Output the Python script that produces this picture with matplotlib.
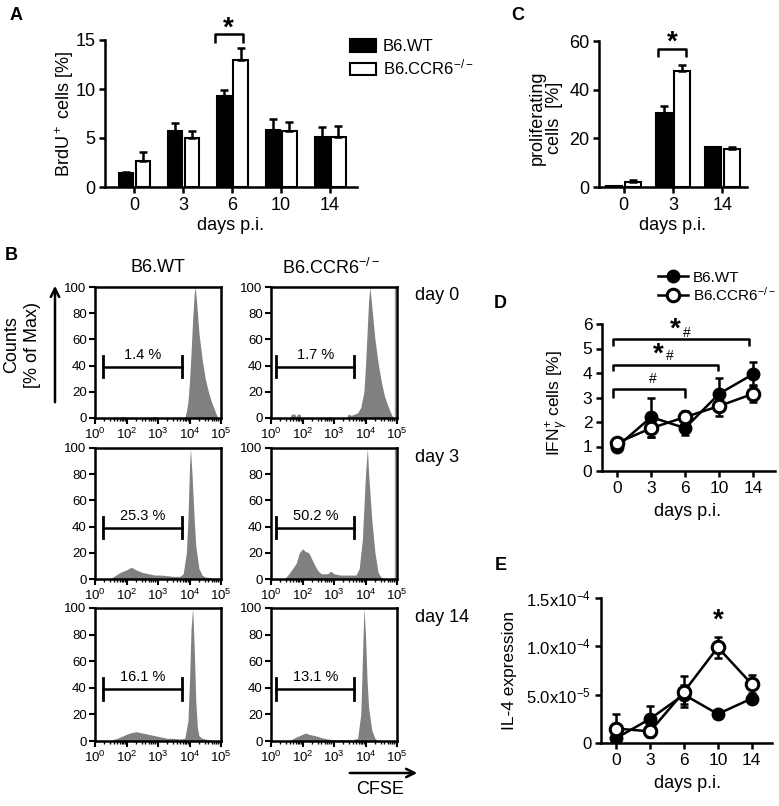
import numpy as np
import matplotlib
matplotlib.use("Agg")
import matplotlib.pyplot as plt
from matplotlib.lines import Line2D
from matplotlib.patches import Patch

plt.rcParams["font.family"] = ["Liberation Sans", "DejaVu Sans"]
plt.rcParams["mathtext.fontset"] = "custom"
plt.rcParams["mathtext.rm"] = "Liberation Sans"
plt.rcParams["mathtext.it"] = "Liberation Sans:italic"
plt.rcParams["mathtext.bf"] = "Liberation Sans:bold"

# ---- data -------------------------------------------------------------
days_a = ["0", "3", "6", "10", "14"]
brdu_wt = [1.4, 5.75, 9.3, 5.8, 5.1]
brdu_wt_err = [0.1, 0.75, 0.6, 1.1, 1.0]
brdu_ko = [2.7, 5.0, 13.0, 5.75, 5.1]
brdu_ko_err = [0.9, 0.7, 1.2, 0.9, 1.1]

days_c = ["0", "3", "14"]
prolif_wt = [0.4, 30.5, 16.3]
prolif_wt_err = [0.2, 2.6, 0.3]
prolif_ko = [1.9, 47.5, 15.6]
prolif_ko_err = [1.1, 2.7, 1.0]

days_d = ["0", "3", "6", "10", "14"]
ifn_wt = [1.0, 2.2, 1.75, 3.15, 3.95]
ifn_wt_err = [0.1, 0.8, 0.3, 0.65, 0.5]
ifn_ko = [1.15, 1.75, 2.2, 2.65, 3.15]
ifn_ko_err = [0.1, 0.35, 0.25, 0.4, 0.35]

il4_wt = [0.5e-5, 2.5e-5, 5.0e-5, 3.0e-5, 4.6e-5]
il4_wt_err = [0.3e-5, 1.3e-5, 1.0e-5, 0.2e-5, 0.3e-5]
il4_ko = [1.5e-5, 1.2e-5, 5.3e-5, 9.9e-5, 6.1e-5]
il4_ko_err = [1.5e-5, 0.6e-5, 1.6e-5, 1.1e-5, 0.9e-5]

# CFSE histograms, x in plotted decade units (0..4), y in % of max
wt_d0_x = [0.8, 0.85, 0.95, 1.0, 1.8, 1.85, 1.95, 2.0, 2.85, 2.9, 2.95, 3.0, 3.05, 3.1, 3.15, 3.18, 3.22, 3.3, 3.4, 3.5, 3.6, 3.7, 3.8, 3.88, 3.95]
wt_d0_y = [0, 1, 1, 0, 0, 1, 1, 0, 0, 5, 12, 28, 50, 75, 95, 100, 90, 65, 45, 30, 20, 12, 6, 1, 0]
ko_d0_x = [0.6, 0.65, 0.75, 0.8, 0.85, 0.92, 0.95, 2.4, 2.45, 2.55, 2.65, 2.75, 2.85, 2.95, 3.0, 3.05, 3.1, 3.14, 3.2, 3.3, 3.4, 3.5, 3.6, 3.7, 3.8, 3.88]
ko_d0_y = [0, 3, 3, 1, 3, 3, 0, 0, 3, 2, 3, 4, 8, 20, 40, 65, 90, 100, 85, 60, 42, 28, 17, 10, 4, 0]
wt_d3_x = [0.5, 0.6, 0.8, 1.0, 1.15, 1.3, 1.5, 1.7, 1.9, 2.1, 2.3, 2.5, 2.7, 2.8, 2.9, 2.95, 3.0, 3.03, 3.08, 3.15, 3.2, 3.3, 3.4, 3.5, 3.7, 3.8]
wt_d3_y = [0.5, 2, 5, 7, 9, 7, 5, 4, 3, 3, 2.5, 2, 2, 4, 20, 45, 85, 100, 80, 45, 25, 8, 3, 1.5, 1, 0]
ko_d3_x = [0.4, 0.5, 0.6, 0.8, 0.9, 1.0, 1.1, 1.2, 1.3, 1.4, 1.5, 1.6, 1.8, 1.9, 2.0, 2.2, 2.4, 2.6, 2.7, 2.8, 2.9, 2.95, 3.0, 3.06, 3.1, 3.2, 3.3, 3.4, 3.5, 3.6]
ko_d3_y = [0, 2, 5, 12, 20, 23, 21, 20, 15, 10, 6, 4, 4, 6, 4, 3, 3, 3, 3, 8, 30, 55, 80, 100, 80, 45, 20, 5, 1, 0]
wt_d14_x = [0.5, 0.7, 0.9, 1.1, 1.3, 1.5, 1.7, 1.9, 2.1, 2.3, 2.5, 2.7, 2.85, 2.95, 3.0, 3.05, 3.1, 3.15, 3.2, 3.25, 3.3, 3.4, 3.6, 3.8]
wt_d14_y = [0.5, 2, 4, 6, 7, 6, 5, 4, 3, 2, 2, 1.5, 2, 15, 45, 85, 100, 70, 30, 10, 4, 2, 1, 0]
ko_d14_x = [0.6, 0.8, 1.0, 1.1, 1.2, 1.4, 1.6, 1.8, 2.0, 2.3, 2.6, 2.75, 2.85, 2.9, 2.95, 3.0, 3.05, 3.1, 3.2, 3.3, 3.4]
ko_d14_y = [0.5, 3, 5, 6, 5, 4, 2.5, 1.5, 1, 1, 1, 2, 20, 60, 100, 80, 45, 25, 8, 2, 0]

gate_pct = ["1.4 %", "1.7 %", "25.3 %", "50.2 %", "16.1 %", "13.1 %"]
gate_wt = (0.24, 2.77)
gate_ko = (0.17, 2.64)
hist_days = ["day 0", "day 3", "day 14"]
cfse_ticks = ["$10^0$", "$10^2$", "$10^3$", "$10^4$", "$10^5$"]

# ---- layout helpers (pixel based) --------------------------------------
W, H = 779, 806
fig = plt.figure(figsize=(W / 100, H / 100), dpi=100)


def px_axes(x0, y0, x1, y1):
    return fig.add_axes([x0 / W, 1 - y1 / H, (x1 - x0) / W, (y1 - y0) / H])


def prism(ax, fs=13):
    for s in ("top", "right"):
        ax.spines[s].set_visible(False)
    for s in ("left", "bottom"):
        ax.spines[s].set_linewidth(1.8)
    ax.tick_params(width=1.8, length=4, labelsize=fs, pad=3)


def bracket(ax, x0, x1, ytop, ylow):
    ax.plot([x0, x0, x1, x1], [ylow, ytop, ytop, ylow], color="k", lw=1.8,
            clip_on=False, solid_capstyle="butt")


LW = 1.5
ERR = dict(fmt="none", ecolor="k", elinewidth=1.8, capsize=3, capthick=1.8)
KO_LABEL = "B6.CCR6$^{-/-}$"

# ---- A: BrdU bars -------------------------------------------------------
axA = px_axes(105, 40, 357, 187)
xa = np.arange(len(days_a))
axA.bar(xa - 0.17, brdu_wt, 0.29, color="k", edgecolor="k", lw=LW)
axA.bar(xa + 0.17, brdu_ko, 0.29, color="white", edgecolor="k", lw=LW)
axA.errorbar(xa - 0.17, brdu_wt, yerr=[np.zeros(5), brdu_wt_err], **ERR)
axA.errorbar(xa + 0.17, brdu_ko, yerr=[np.zeros(5), brdu_ko_err], **ERR)
axA.set_xlim(-0.6, 4.55)
axA.set_ylim(0, 15)
axA.set_yticks([0, 5, 10, 15])
axA.set_xticks(xa, days_a)
prism(axA)
bracket(axA, 2 - 0.36, 2 + 0.22, 15.6, 14.7)
axA.text(2 - 0.08, 16.2, "*", ha="center", va="center", fontsize=20, fontweight="bold", clip_on=False)
axA.legend(handles=[Patch(facecolor="k", edgecolor="k", lw=LW, label="B6.WT"),
                    Patch(facecolor="white", edgecolor="k", lw=LW, label=KO_LABEL)],
           loc="upper left", bbox_to_anchor=(342 / W, 1 - 31 / H), bbox_transform=fig.transFigure,
           frameon=False, fontsize=12, handlelength=1.55, handleheight=0.75,
           handletextpad=0.4, labelspacing=0.2, borderpad=0)

# ---- C: proliferating bars ----------------------------------------------
axC = px_axes(599, 41, 747, 187)
xc = np.arange(len(days_c))
axC.bar(xc - 0.19, prolif_wt, 0.32, color="k", edgecolor="k", lw=LW)
axC.bar(xc + 0.19, prolif_ko, 0.32, color="white", edgecolor="k", lw=LW)
axC.errorbar(xc - 0.19, prolif_wt, yerr=[np.zeros(3), prolif_wt_err], **ERR)
axC.errorbar(xc + 0.19, prolif_ko, yerr=[np.zeros(3), prolif_ko_err], **ERR)
axC.set_xlim(-0.5, 2.5)
axC.set_ylim(0, 60)
axC.set_yticks([0, 20, 40, 60])
axC.set_xticks(xc, days_c)
prism(axC)
bracket(axC, 1 - 0.3, 1 + 0.26, 56.7, 53.4)
axC.text(1 - 0.02, 59.5, "*", ha="center", va="center", fontsize=20, fontweight="bold", clip_on=False)

# ---- D: IFNg line -------------------------------------------------------
axD = px_axes(602, 324, 775, 471)
xd = np.arange(len(days_d))
axD.errorbar(xd, ifn_wt, yerr=ifn_wt_err, **ERR)
axD.errorbar(xd, ifn_ko, yerr=ifn_ko_err, **ERR)
axD.plot(xd, ifn_wt, "-o", color="k", lw=1.8, ms=9, mfc="k", mec="k", zorder=3)
axD.plot(xd, ifn_ko, "-o", color="k", lw=1.8, ms=9, mfc="white", mec="k", mew=2.2, zorder=4)
axD.set_xlim(-0.45, 4.65)
axD.set_ylim(0, 6)
axD.set_yticks(range(7))
axD.set_xticks(xd, days_d)
prism(axD, 12.5)
bracket(axD, -0.12, 2.0, 3.34, 3.0)
bracket(axD, -0.12, 2.97, 4.34, 4.1)
bracket(axD, -0.12, 3.88, 5.39, 5.1)
axD.text(1.05, 3.75, "#", ha="center", va="center", fontsize=10, clip_on=False)
axD.text(1.2, 4.75, "*", ha="center", va="center", fontsize=20, fontweight="bold", clip_on=False)
axD.text(1.56, 4.68, "#", ha="center", va="center", fontsize=10, clip_on=False)
axD.text(1.72, 5.75, "*", ha="center", va="center", fontsize=20, fontweight="bold", clip_on=False)
axD.text(2.06, 5.65, "#", ha="center", va="center", fontsize=10, clip_on=False)
axD.legend(handles=[Line2D([], [], color="k", lw=1.8, marker="o", ms=9, mfc="k", label="B6.WT"),
                    Line2D([], [], color="k", lw=1.8, marker="o", ms=9, mfc="white", mew=2.2,
                           label=KO_LABEL)],
           loc="upper left", bbox_to_anchor=(650 / W, 1 - 263 / H), bbox_transform=fig.transFigure,
           frameon=False, fontsize=11, handlelength=2.0, handletextpad=0.3,
           labelspacing=0.05, borderpad=0)

# ---- E: IL-4 line -------------------------------------------------------
axE = px_axes(601, 598, 772, 743)
axE.errorbar(xd, il4_wt, yerr=il4_wt_err, **ERR)
axE.errorbar(xd, il4_ko, yerr=il4_ko_err, **ERR)
axE.plot(xd, il4_wt, "-o", color="k", lw=1.8, ms=9, mfc="k", mec="k", zorder=3)
axE.plot(xd, il4_ko, "-o", color="k", lw=1.8, ms=9, mfc="white", mec="k", mew=2.2, zorder=4)
axE.set_xlim(-0.45, 4.6)
axE.set_ylim(0, 1.5e-4)
axE.set_yticks([0, 5e-5, 1e-4, 1.5e-4],
               ["0", "5.0x10$^{-5}$", "1.0x10$^{-4}$", "1.5x10$^{-4}$"])
axE.set_xticks(xd, days_d)
prism(axE, 12.5)
axE.tick_params(axis="y", labelsize=12)
axE.text(3, 1.27e-4, "*", ha="center", va="center", fontsize=20, fontweight="bold", clip_on=False)

# ---- B: CFSE histograms -------------------------------------------------
hists = [(wt_d0_x, wt_d0_y), (ko_d0_x, ko_d0_y),
         (wt_d3_x, wt_d3_y), (ko_d3_x, ko_d3_y),
         (wt_d14_x, wt_d14_y), (ko_d14_x, ko_d14_y)]
cols = [(95, 221), (271, 397)]
rows = [(287, 418), (448, 579), (608, 741)]
minor = [d + np.log10(k) for d in range(4) for k in range(2, 10)]
for i, (hx, hy) in enumerate(hists):
    r, c = divmod(i, 2)
    ax = px_axes(cols[c][0], rows[r][0], cols[c][1], rows[r][1])
    ax.fill_between(hx, hy, color="#808080", lw=0)
    if c == 1 and r < 2:
        ax.axvline(3.93, color="#9a9a9a", lw=1)
    g0, g1 = gate_wt if c == 0 else gate_ko
    ax.plot([g0, g1], [39, 39], color="k", lw=1.8)
    ax.plot([g0, g0], [31, 47], color="k", lw=2)
    ax.plot([g1, g1], [31, 47], color="k", lw=2)
    ax.text((g0 + g1) / 2, 43, gate_pct[i], ha="center", va="bottom", fontsize=10.5)
    ax.set_xlim(0, 4)
    ax.set_ylim(0, 100)
    ax.set_yticks(range(0, 101, 20))
    ax.set_xticks(range(5), cfse_ticks)
    ax.set_xticks(minor, minor=True)
    for s in ax.spines.values():
        s.set_linewidth(1.8)
    ax.tick_params(labelsize=9.5, width=1.5, length=4, pad=2)
    ax.tick_params(which="minor", width=1, length=2.5)

# ---- overlay text / arrows ----------------------------------------------
ov = fig.add_axes([0, 0, 1, 1])
ov.set_xlim(0, W)
ov.set_ylim(H, 0)
ov.axis("off")
for lab, x, y in [("A", 16, 15), ("B", 11, 255), ("C", 518, 15), ("D", 500, 303), ("E", 501, 566)]:
    ov.text(x, y, lab, fontsize=13, fontweight="bold", ha="center", va="center")
ov.text(65, 114, "BrdU$^+$ cells [%]", rotation=90, ha="center", va="center", fontsize=13)
ov.text(546, 118, "proliferating\ncells  [%]", rotation=90, ha="center", va="center",
        fontsize=13, linespacing=1.0)
ov.text(558, 403, "IFN$_{\\gamma}^{+}$ cells [%]", rotation=90, ha="center", va="center", fontsize=12.5)
ov.text(510, 670, "IL-4 expression", rotation=90, ha="center", va="center", fontsize=12.5)
for x, y in [(231, 226), (673, 226), (688, 512), (688, 783)]:
    ov.text(x, y, "days p.i.", ha="center", va="center", fontsize=13)
ov.text(158, 268, "B6.WT", ha="center", va="center", fontsize=13)
ov.text(331, 268, KO_LABEL, ha="center", va="center", fontsize=13)
for lab, y in zip(hist_days, [295, 457, 617]):
    ov.text(415, y, lab, ha="left", va="center", fontsize=13)
ov.text(12, 345, "Counts", rotation=90, ha="center", va="center", fontsize=13)
ov.text(33, 345, "[% of Max)", rotation=90, ha="center", va="center", fontsize=13)
ov.annotate("", xy=(55, 283), xytext=(55, 405),
            arrowprops=dict(arrowstyle="->", lw=1.8, color="k", mutation_scale=15))
ov.annotate("", xy=(420, 773), xytext=(347, 773),
            arrowprops=dict(arrowstyle="->", lw=1.8, color="k", mutation_scale=15))
ov.text(380, 790, "CFSE", ha="center", va="center", fontsize=13)

fig.savefig("out.png", dpi=100)
